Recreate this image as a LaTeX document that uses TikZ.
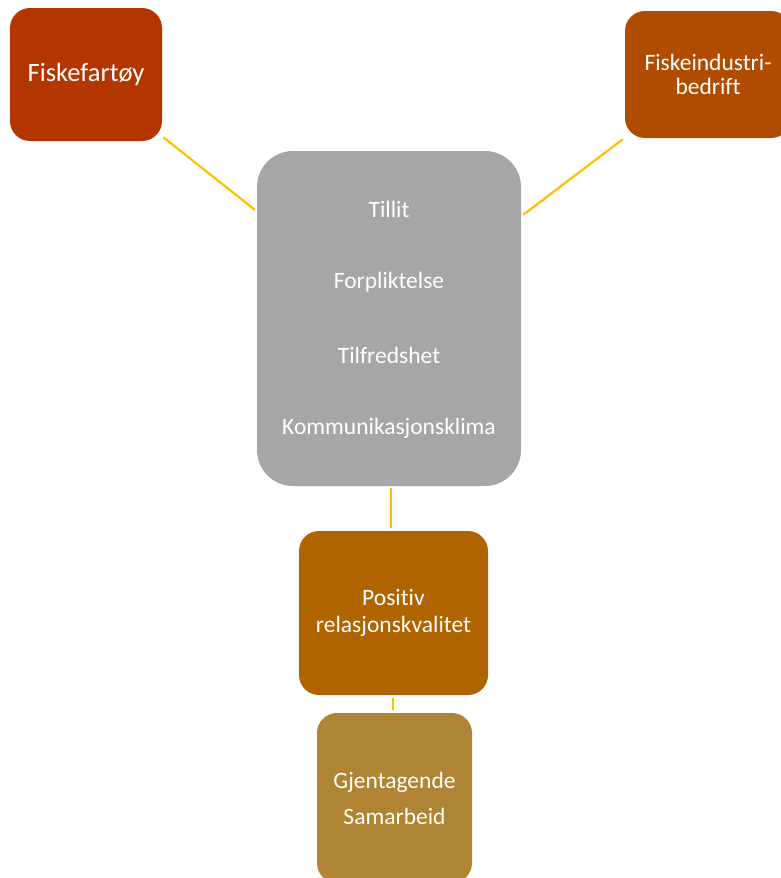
\documentclass[tikz,border=0pt]{standalone}
\usepackage{fontspec}
\setmainfont{Carlito}[Ligatures=NoCommon]
\definecolor{cFisk}{RGB}{179,53,0}
\definecolor{cBed}{RGB}{176,76,0}
\definecolor{cGrey}{RGB}{166,166,166}
\definecolor{cPos}{RGB}{176,100,0}
\definecolor{cGj}{RGB}{175,132,52}
\definecolor{cLine}{RGB}{255,192,0}
\begin{document}
\begin{tikzpicture}[x=1pt,y=-1pt,
  box/.style={rounded corners=20pt, inner sep=0pt, text=white, align=center},
  conn/.style={draw=cLine, line width=2.2pt},
  gtext/.style={text=white, font=\fontsize{23.5}{28}\selectfont}]
\useasboundingbox (0,0) rectangle (780,878);
\fill[white] (0,0) rectangle (780,878);
\node[box, fill=cFisk, minimum width=152pt, minimum height=133pt, font=\fontsize{26.5}{30}\selectfont] (fisk) at (86,74.5) {Fiskefartøy};
\node[box, fill=cBed, minimum width=166pt, minimum height=127pt, font=\fontsize{23.5}{24}\selectfont] (bed) at (708,74.5) {Fiskeindustri-\\bedrift};
\node[box, rounded corners=36pt, fill=cGrey, minimum width=264pt, minimum height=335pt] (grey) at (389,318.5) {};
\node[gtext] (t1) at (389,209) {Tillit};
\node[gtext] (t2) at (389,282) {Forpliktelse};
\node[gtext] (t3) at (389,355) {Tilfredshet};
\node[gtext] (t4) at (389,428) {Kommunikasjonsklima};
\node[box, fill=cPos, minimum width=189pt, minimum height=164pt, font=\fontsize{23.5}{27}\selectfont] (pos) at (393.5,613) {Positiv\\relasjonskvalitet};
\node[box, fill=cGj, minimum width=155pt, minimum height=170pt, font=\fontsize{23.5}{36}\selectfont] (gj) at (394.5,798) {Gjentagende\\Samarbeid};
\draw[conn] ([xshift=1pt,yshift=4pt]fisk.south east) -- ([xshift=-2pt,yshift=-59pt]grey.north west);
\draw[conn] ([xshift=-2pt,yshift=-1pt]bed.south west) -- ([xshift=2pt,yshift=-64pt]grey.north east);
\draw[conn] ([xshift=2pt,yshift=-2pt]grey.south) -- ([xshift=-2.5pt,yshift=3pt]pos.north);
\draw[conn] ([xshift=-0.5pt,yshift=-3pt]pos.south) -- ([xshift=-1.5pt,yshift=3pt]gj.north);
\end{tikzpicture}
\end{document}
